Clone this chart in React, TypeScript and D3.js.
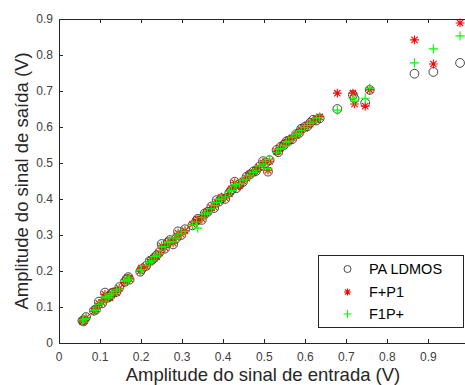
import React from "react";
import * as d3 from "d3";

const xIn = [0.057,0.060,0.066,0.085,0.090,0.097,0.105,0.112,0.115,0.120,0.124,0.128,0.132,0.140,0.147,0.160,0.165,0.169,0.172,0.198,0.201,0.212,0.221,0.226,0.232,0.238,0.245,0.250,0.258,0.265,0.270,0.278,0.285,0.290,0.298,0.307,0.325,0.335,0.338,0.348,0.355,0.362,0.371,0.378,0.384,0.390,0.396,0.405,0.415,0.420,0.428,0.432,0.440,0.448,0.457,0.465,0.473,0.480,0.488,0.497,0.503,0.509,0.513,0.530,0.534,0.540,0.548,0.554,0.560,0.568,0.578,0.585,0.590,0.598,0.605,0.612,0.619,0.627,0.635,0.678,0.716,0.720,0.746,0.757,0.866,0.912,0.977];

const paLdmos = [0.062,0.060,0.072,0.090,0.093,0.115,0.110,0.140,0.125,0.128,0.129,0.138,0.140,0.142,0.155,0.170,0.178,0.183,0.176,0.198,0.205,0.214,0.228,0.230,0.237,0.244,0.253,0.275,0.262,0.280,0.286,0.274,0.290,0.310,0.300,0.316,0.327,0.340,0.345,0.342,0.360,0.364,0.379,0.375,0.397,0.393,0.402,0.400,0.418,0.425,0.448,0.430,0.440,0.447,0.462,0.468,0.476,0.478,0.490,0.505,0.500,0.476,0.508,0.536,0.530,0.545,0.550,0.560,0.562,0.566,0.580,0.583,0.595,0.600,0.602,0.612,0.620,0.618,0.624,0.650,0.689,0.679,0.667,0.703,0.748,0.753,0.778];

const fP1 = [0.060,0.063,0.070,0.088,0.095,0.110,0.112,0.135,0.122,0.130,0.126,0.135,0.142,0.140,0.152,0.168,0.175,0.180,0.178,0.200,0.208,0.212,0.225,0.232,0.235,0.240,0.250,0.270,0.265,0.276,0.283,0.278,0.293,0.305,0.302,0.312,0.330,0.338,0.342,0.345,0.356,0.366,0.376,0.378,0.392,0.395,0.405,0.403,0.415,0.428,0.445,0.433,0.438,0.450,0.458,0.470,0.472,0.482,0.488,0.500,0.503,0.480,0.505,0.532,0.533,0.542,0.553,0.556,0.565,0.570,0.576,0.586,0.592,0.596,0.606,0.608,0.616,0.622,0.628,0.694,0.694,0.664,0.658,0.703,0.842,0.775,0.889];

const f1P = [0.061,0.065,0.068,0.090,0.092,0.108,0.114,0.130,0.127,0.126,0.132,0.136,0.138,0.144,0.150,0.172,0.174,0.176,0.181,0.202,0.204,0.216,0.224,0.228,0.240,0.242,0.248,0.266,0.268,0.278,0.282,0.281,0.292,0.300,0.305,0.310,0.328,0.336,0.319,0.348,0.358,0.362,0.373,0.382,0.390,0.398,0.400,0.406,0.420,0.424,0.440,0.436,0.443,0.452,0.455,0.466,0.474,0.480,0.492,0.497,0.505,0.485,0.510,0.530,0.538,0.540,0.548,0.558,0.560,0.572,0.578,0.582,0.590,0.598,0.604,0.610,0.614,0.625,0.626,0.647,0.680,0.672,0.680,0.708,0.778,0.817,0.853];

const xTicks = [0,0.1,0.2,0.3,0.4,0.5,0.6,0.7,0.8,0.9];
const yTicks = [0,0.1,0.2,0.3,0.4,0.5,0.6,0.7,0.8,0.9];
const legendLabels = ["PA LDMOS","F+P1","F1P+"];

const W = 465, H = 385;
const x = d3.scaleLinear().domain([0, 1]).range([59, 469.5]);
const y = d3.scaleLinear().domain([0, 0.9]).range([343, 19]);

const AX = "#262626";
const TXT = "#262626";
const FONT = "'Liberation Sans', Arial, sans-serif";

function Circle({ cx, cy, r = 4.4 }: any) {
  return <circle cx={cx} cy={cy} r={r} fill="none" stroke="#333" strokeWidth={0.9} />;
}
function Star({ cx, cy, s = 4.4 }: any) {
  const d = s * 0.72;
  return (
    <path
      d={`M${cx - s},${cy}L${cx + s},${cy}M${cx},${cy - s}L${cx},${cy + s}M${cx - d},${cy - d}L${cx + d},${cy + d}M${cx - d},${cy + d}L${cx + d},${cy - d}`}
      stroke="#ff0000"
      strokeWidth={1.1}
      fill="none"
    />
  );
}
function Plus({ cx, cy, s = 4.6 }: any) {
  return (
    <path
      d={`M${cx - s},${cy}L${cx + s},${cy}M${cx},${cy - s}L${cx},${cy + s}`}
      stroke="#00ff00"
      strokeWidth={1.1}
      fill="none"
    />
  );
}

export default function App() {
  const y0 = y(0), yTop = y(0.9), x0 = x(0);
  return (
    <svg
      width={W}
      height={H}
      style={{ position: "absolute", left: 0, top: 0, background: "#fff" }}
      fontFamily={FONT}
    >
      <rect x={0} y={0} width={W} height={H} fill="#fff" />
      <g>
        {xIn.map((v, i) => (
          <Circle key={"c" + i} cx={x(v)} cy={y(paLdmos[i])} />
        ))}
        {xIn.map((v, i) => (
          <Star key={"s" + i} cx={x(v)} cy={y(fP1[i])} />
        ))}
        {xIn.map((v, i) => (
          <Plus key={"p" + i} cx={x(v)} cy={y(f1P[i])} />
        ))}
      </g>
      <g stroke={AX} strokeWidth={1} fill="none" shapeRendering="crispEdges">
        <line x1={x0} x2={W} y1={y0} y2={y0} />
        <line x1={x0} x2={W} y1={yTop} y2={yTop} />
        <line x1={x0} x2={x0} y1={yTop} y2={y0} />
        {xTicks.map((t) => (
          <g key={"xt" + t}>
            <line x1={x(t)} x2={x(t)} y1={y0} y2={y0 - 4} />
            <line x1={x(t)} x2={x(t)} y1={yTop} y2={yTop + 4} />
          </g>
        ))}
        {yTicks.map((t) => (
          <line key={"yt" + t} x1={x0} x2={x0 + 4} y1={y(t)} y2={y(t)} />
        ))}
      </g>
      <g fill="#404040" fontSize={12}>
        {xTicks.map((t) => (
          <text key={"xl" + t} x={x(t)} y={361} textAnchor="middle">
            {String(t)}
          </text>
        ))}
        {yTicks.map((t) => (
          <text key={"yl" + t} x={53} y={y(t) + 4} textAnchor="end">
            {String(t)}
          </text>
        ))}
      </g>
      <text x={263} y={381} textAnchor="middle" fontSize={18.5} fill={TXT}>
        Amplitude do sinal de entrada (V)
      </text>
      <text
        transform={`translate(28,${(y0 + yTop) / 2}) rotate(-90)`}
        textAnchor="middle"
        fontSize={18.5}
        fill={TXT}
      >
        Amplitude do sinal de saída (V)
      </text>
      <g>
        <rect x={318.5} y={255.5} width={145} height={72} fill="#fff" stroke={AX} strokeWidth={1} />
        <Circle cx={347.5} cy={269} r={3.5} />
        <Star cx={347.5} cy={292} s={3.5} />
        <Plus cx={347.5} cy={314} s={4} />
        {legendLabels.map((l, i) => (
          <text key={l} x={369} y={[269, 292, 314][i] + 5} fontSize={14.5} fill="#000">
            {l}
          </text>
        ))}
      </g>
    </svg>
  );
}
